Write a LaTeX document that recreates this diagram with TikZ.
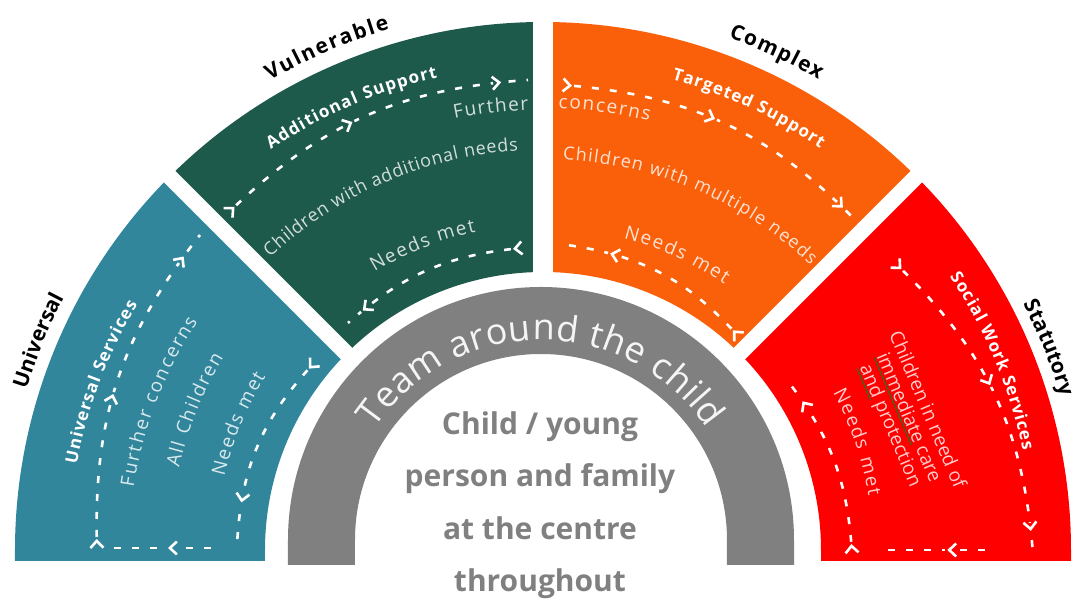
\documentclass[tikz,border=0pt]{standalone}
\usepackage{fontspec}
\setmainfont{Open Sans}
\usetikzlibrary{arrows.meta, decorations.text, decorations.markings}

\definecolor{segblue}{HTML}{31869C}
\definecolor{seggreen}{HTML}{1E5A4B}
\definecolor{segorange}{HTML}{FA600A}
\definecolor{segred}{HTML}{FF0000}
\definecolor{ringgray}{HTML}{808080}
\definecolor{spellgreen}{HTML}{2E6B1E}
\colorlet{bluenote}{white!82!segblue}
\colorlet{greennote}{white!80!seggreen}
\colorlet{orangenote}{white!82!segorange}
\colorlet{rednote}{white!80!segred}

\newcommand\tierfont{\color{black}\bfseries\fontsize{21}{21}\selectfont}
\newcommand\headfont{\color{white}\bfseries\fontsize{17}{17}\selectfont}
\newcommand\notefont{\fontsize{19}{19}\selectfont}
\newcommand\spellmark[1]{\setbox0\hbox{#1}\rlap{\color{spellgreen}\rule[-3pt]{\wd0}{1.2pt}}\box0\relax}

\begin{document}
\begin{tikzpicture}[
			x = 1pt, y = 1pt,
			gapline/.style = {draw = white, line width = #1},
			arctext/.style = {decorate, decoration = {text along path, text align = {fit to path}, text = {#1}}},
			flow/.style = {draw = white, line width = 2.6pt, dash pattern = on 7pt off 11pt, dash phase = 7pt},
			chev/.style args = {#1 on #2}{postaction = {solid, decorate, decoration = {markings, mark = at position #1 with {\fill[#2] (-8pt,-2.5pt) rectangle (2pt,2.5pt); \arrow{Straight Barb[length = 7pt, width = 13pt]}}}}},
			midtext/.style = {anchor = base, text = ringgray, font = \bfseries\fontsize{30}{30}\selectfont}
		]
		\useasboundingbox (-543,-51) rectangle (534,550);
		\fill[segblue] (180:528) arc[start angle = 180, end angle = 135, radius = 528] -- (135:278) arc[start angle = 135, end angle = 180, radius = 278] -- (-278,-11) -- (-528,-11) -- cycle;
		\fill[seggreen] (135:528) arc[start angle = 135, end angle = 90, radius = 528] -- (90:278) arc[start angle = 90, end angle = 135, radius = 278] -- cycle;
		\fill[segorange] (90:528) arc[start angle = 90, end angle = 45, radius = 528] -- (45:278) arc[start angle = 45, end angle = 90, radius = 278] -- cycle;
		\fill[segred] (45:528) arc[start angle = 45, end angle = 0, radius = 528] -- (528,-11) -- (278,-11) -- (0:278) arc[start angle = 0, end angle = 45, radius = 278] -- cycle;
		\draw[gapline = 16pt] (0,0) -- (135:560);
		\draw[gapline = 20pt] (0,0) -- (90:560);
		\draw[gapline = 16pt] (0,0) -- (45:560);
		\fill[ringgray] (-255,-15) -- (-255,10) arc[start angle = 180, end angle = 0, radius = 253] -- (251,-15) -- (184,-15) -- (184,10) arc[start angle = 0, end angle = 180, radius = 186] -- (-188,-15) -- cycle;

		\coordinate (uniOutS) at (-446,2);
		\coordinate (uniOutE) at (-343,315);
		\coordinate (uniInS) at (-228,188);
		\coordinate (uniInE) at (-306,5);
		\coordinate (uniBotS) at (-321,2);
		\coordinate (uniBotE) at (-429,2);
		\coordinate (vulOutS) at (-315,337);
		\coordinate (vulOutE) at (-15,470);
		\coordinate (vulInS) at (-21,302);
		\coordinate (vulInE) at (-195,227);
		\coordinate (comOutS) at (20,465);
		\coordinate (comOutE) at (319,323);
		\coordinate (comInS) at (196,213);
		\coordinate (comInE) at (24,305);
		\coordinate (staOutS) at (352,287);
		\coordinate (staOutE) at (490,-4);
		\coordinate (staInS) at (309,-3);
		\coordinate (staInE) at (244,170);
		\coordinate (staBotS) at (453,0);
		\coordinate (staBotE) at (337,0);

		\draw[flow, chev = 9pt on segblue, chev = 0.46 on segblue, chev = 0.92 on segblue] (uniOutS) to[bend left = 20] (uniOutE);
		\draw[flow, chev = 9pt on segblue, chev = 0.79 on segblue] (uniInS) to[bend right = 20] (uniInE);
		\draw[flow, chev = 0.5 on segblue] (uniBotS) -- (uniBotE);
		\draw[flow, chev = 9pt on seggreen, chev = 0.46 on seggreen, chev = 0.92 on seggreen] (vulOutS) to[bend left = 20] (vulOutE);
		\draw[flow, chev = 9pt on seggreen, chev = 0.9 on seggreen] (vulInS) to[bend right = 18] (vulInE);
		\draw[flow, chev = 9pt on segorange, chev = 0.46 on segorange, chev = 0.92 on segorange] (comOutS) to[bend left = 21] (comOutE);
		\draw[flow, chev = 9pt on segorange, chev = 0.78 on segorange] (comInS) to[bend right = 20] (comInE);
		\draw[flow, chev = 9pt on segred, chev = 0.47 on segred, chev = 0.93 on segred] (staOutS) to[bend left = 21] (staOutE);
		\draw[flow, chev = 9pt on segred, chev = 0.86 on segred] (staInS) to[bend right = 17] (staInE);
		\draw[flow, chev = 0.42 on segred] (staBotS) -- (staBotE);

		\path[arctext = {|\tierfont|Universal}] (162.7:541) arc[start angle = 162.7, end angle = 152.4, radius = 541];
		\path[arctext = {|\tierfont|Vulnerable}] (120.2:543) arc[start angle = 120.2, end angle = 106.4, radius = 543];
		\path[arctext = {|\tierfont|Complex}] (70.1:545) arc[start angle = 70.1, end angle = 59.6, radius = 545];
		\path[arctext = {|\tierfont|Statutory}] (27.1:540) arc[start angle = 27.1, end angle = 16.5, radius = 540];

		\path[arctext = {|\headfont|Universal Services}] (169.6:474) arc[start angle = 169.6, end angle = 148.8, radius = 474];
		\path[arctext = {|\notefont\color{bluenote}|Further concerns}] (171.3:414) arc[start angle = 171.3, end angle = 146.5, radius = 414];
		\path[arctext = {|\notefont\color{bluenote}|All Children}] (167.3:373) arc[start angle = 167.3, end angle = 148.9, radius = 373];
		\path[arctext = {|\notefont\color{bluenote}|Needs met}] (167:327) arc[start angle = 167, end angle = 148, radius = 327];

		\path[arctext = {|\headfont|Additional Support}] (124.2:484) arc[start angle = 124.2, end angle = 102.6, radius = 484];
		\path[arctext = {|\notefont\color{greennote}|Further}] (101.6:440) arc[start angle = 101.6, end angle = 91.9, radius = 440];
		\path[arctext = {|\fontsize{18}{18}\selectfont\color{greennote}|Children with additional needs}] (133:400) arc[start angle = 133, end angle = 93.6, radius = 400];
		\path[arctext = {|\notefont\color{greennote}|Needs met}] (121.2:325) arc[start angle = 121.2, end angle = 101.9, radius = 325];

		\path[arctext = {|\headfont|Targeted Support}] (74.7:488) arc[start angle = 74.7, end angle = 55.4, radius = 488];
		\path[arctext = {|\notefont\color{orangenote}|concerns}] (88:442) arc[start angle = 88, end angle = 76.1, radius = 442];
		\path[arctext = {|\fontsize{18}{18}\selectfont\color{orangenote}|Children with multiple needs}] (87.1:391) arc[start angle = 87.1, end angle = 46.8, radius = 391];
		\path[arctext = {|\notefont\color{orangenote}|Needs met}] (75.5:322) arc[start angle = 75.5, end angle = 55.7, radius = 322];

		\path[arctext = {|\headfont|Social Work Services}] (33.9:490) arc[start angle = 33.9, end angle = 11.7, radius = 490];
		\path[arctext = {|\notefont\color{rednote}|Needs met}] (28.5:330) arc[start angle = 28.5, end angle = 9.4, radius = 330];
		\node[rotate = -67, align = center, text = rednote, font = \fontsize{19}{20}\selectfont] (redcare) at (365,132) {Children in need of\\\spellmark{immediate} care\\\spellmark{and} protection};

		\path[shift = {(-2,10)}, arctext = {|\fontsize{36}{36}\selectfont\color{white!92!ringgray}|Team around the child}] (146:200) arc[start angle = 146, end angle = 34, radius = 200];
		\node[midtext] (mid1) at (-3,115) {Child / young};
		\node[midtext] (mid2) at (-3,63) {person and family};
		\node[midtext] (mid3) at (-3,10) {at the centre};
		\node[midtext] (mid4) at (-3,-42) {throughout};
	\end{tikzpicture}
\end{document}
